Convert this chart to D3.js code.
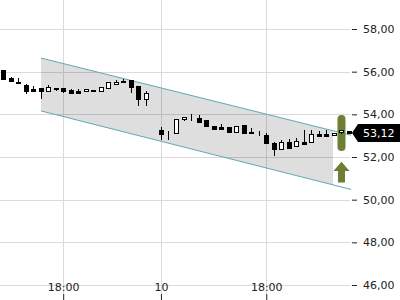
<!DOCTYPE html>
<html>
<head>
<meta charset="UTF-8">
<title>Kurs Chart</title>
<script src="https://cdn.jsdelivr.net/npm/d3@7"></script>
<style type="text/css">
	body{ margin:0; background:#fff; }
	text{ font-family: "DejaVu Sans", sans-serif; }
</style>
</head>
<body>
<script>
// candles, in order (open, high, low, close)
var opens  = [56.08,55.72,55.53,55.38,55.19,55.22,55.09,55.25,55.23,55.16,55.09,55.08,55.14,55.09,55.25,55.41,55.58,55.61,55.34,54.70,54.99,
              53.27,53.16,53.14,53.77,53.84,53.84,53.73,53.45,53.39,53.39,53.17,53.50,53.19,53.11,53.05,52.64,52.36,52.69,52.52,52.70,52.69,53.06,53.08,53.02,53.19,53.22];
var highs  = [56.10,55.74,55.69,55.40,55.34,55.25,55.36,55.25,55.23,55.19,55.19,55.21,55.16,55.30,55.50,55.61,55.66,55.62,55.34,55.11,54.99,
              53.42,53.22,53.78,53.89,54.00,53.97,53.73,53.45,53.55,53.39,53.47,53.50,53.36,53.22,53.13,52.72,52.80,52.86,52.88,53.27,53.27,53.22,53.27,53.14,53.25,53.24];
var lows   = [55.64,55.54,55.45,54.95,55.11,54.72,55.09,55.09,55.00,54.98,55.00,55.08,55.08,55.09,55.19,55.41,55.52,55.02,54.40,54.40,54.99,
              52.80,52.80,53.14,53.69,53.69,53.59,53.45,53.30,53.30,53.17,53.17,53.11,53.11,52.98,52.67,52.06,52.36,52.44,52.52,52.62,52.69,52.94,52.98,53.02,53.08,53.12];
var closes = [55.66,55.56,55.45,55.09,55.11,55.09,55.28,55.19,55.09,54.99,55.00,55.21,55.08,55.30,55.50,55.53,55.52,55.30,54.70,55.02,54.99,
              53.06,53.15,53.77,53.89,53.84,53.65,53.45,53.30,53.30,53.17,53.47,53.11,53.11,53.11,52.67,52.36,52.69,52.44,52.74,52.62,53.08,52.98,52.98,53.14,53.25,53.12];

var xTickIdx    = [8, 21, 35];
var xTickLabels = ["18:00", "10", "18:00"];
var yTicks      = [46, 48, 50, 52, 54, 56, 58];

// trend channel: [start index, end index], upper/lower values
var chanIdx   = [5.05, 46.27];
var chanUpper = [56.64, 53.02];
var chanLower = [54.16, 50.48];
var chanFillEnd = 43.87;

// signal marker (range bar + up arrow) at candle index
var signalIdx   = 45;
var signalRange = [53.97, 52.28];
var arrowVals   = [51.78, 51.34, 50.81]; // tip, head base, stem end

var lastPrice = closes[closes.length - 1];

var width = 400, height = 300;
var fmt = d3.formatLocale({decimal: ",", thousands: ".", grouping: [3], currency: ["", "€"]}).format(".2f");

var svg = d3.select("body").append("svg")
	.attr("width", width)
	.attr("height", height);

var x = d3.scaleLinear().domain([0, opens.length - 1]).range([3, 349]);
var y = d3.scaleLinear().domain([46, 58]).range([285, 29]);

// grid
var grid = svg.append("g").attr("stroke", "#dadada").attr("stroke-width", 1);
grid.selectAll(".hg").data(yTicks).enter().append("line")
	.attr("x1", 0).attr("x2", 350)
	.attr("y1", function(d){ return Math.round(y(d)) + 0.5; })
	.attr("y2", function(d){ return Math.round(y(d)) + 0.5; });
grid.selectAll(".vg").data(xTickIdx).enter().append("line")
	.attr("y1", 0).attr("y2", 294)
	.attr("x1", function(d){ return Math.round(x(d)) + 0.5; })
	.attr("x2", function(d){ return Math.round(x(d)) + 0.5; });

// channel
function lerp(a, b, t){ return a + (b - a) * t; }
var tFill = (chanFillEnd - chanIdx[0]) / (chanIdx[1] - chanIdx[0]);
var fillPts = [
	[x(chanIdx[0]), y(chanUpper[0])],
	[x(chanFillEnd), y(lerp(chanUpper[0], chanUpper[1], tFill))],
	[x(chanFillEnd), y(lerp(chanLower[0], chanLower[1], tFill))],
	[x(chanIdx[0]), y(chanLower[0])]
];
svg.append("path")
	.attr("d", d3.line()(fillPts) + "Z")
	.attr("fill", "rgba(0,0,0,0.13)");

[chanUpper, chanLower].forEach(function(v){
	svg.append("line")
		.attr("x1", x(chanIdx[0])).attr("y1", y(v[0]))
		.attr("x2", x(chanIdx[1])).attr("y2", y(v[1]))
		.attr("stroke", "#62a8b2").attr("stroke-width", 1);
});

// signal bar and arrow
var sx = x(signalIdx);
svg.append("rect")
	.attr("x", sx - 4).attr("width", 8)
	.attr("y", y(signalRange[0])).attr("height", y(signalRange[1]) - y(signalRange[0]))
	.attr("rx", 4)
	.attr("fill", "#6c7f35");
svg.append("path")
	.attr("d", d3.line()([
		[sx, y(arrowVals[0])], [sx + 8, y(arrowVals[1])], [sx + 3.5, y(arrowVals[1])],
		[sx + 3.5, y(arrowVals[2])], [sx - 3.5, y(arrowVals[2])], [sx - 3.5, y(arrowVals[1])],
		[sx - 8, y(arrowVals[1])]
	]) + "Z")
	.attr("fill", "#6c7f35");

// candles
var idx = d3.range(opens.length);
var candles = svg.append("g");
candles.selectAll(".wick").data(idx).enter().append("line")
	.attr("x1", function(i){ return Math.round(x(i)) + 0.5; })
	.attr("x2", function(i){ return Math.round(x(i)) + 0.5; })
	.attr("y1", function(i){ return Math.round(y(highs[i])); })
	.attr("y2", function(i){ return Math.round(y(lows[i])); })
	.attr("stroke", "#000");
candles.selectAll(".body").data(idx).enter().append("rect")
	.attr("x", function(i){ return Math.round(x(i)) - 2 + 0.5; })
	.attr("width", 4)
	.attr("y", function(i){ return Math.round(y(Math.max(opens[i], closes[i]))) + 0.5; })
	.attr("height", function(i){ return Math.max(0, Math.round(y(Math.min(opens[i], closes[i]))) - Math.round(y(Math.max(opens[i], closes[i])))); })
	.attr("fill", function(i){ return closes[i] >= opens[i] ? "#fff" : "#000"; })
	.attr("stroke", "#000");

// y axis (right)
var yAxis = svg.append("g")
	.attr("transform", "translate(352,0)")
	.call(d3.axisRight(y).tickValues(yTicks).tickSize(5).tickPadding(6).tickFormat(fmt));
yAxis.select(".domain").remove();
yAxis.selectAll("text").attr("font-size", 11).attr("font-family", "DejaVu Sans").attr("fill", "#222");
yAxis.selectAll("line").attr("stroke", "#222");

// x axis (labels above ticks)
var xAxis = svg.append("g")
	.attr("transform", "translate(0,300)")
	.call(d3.axisTop(x).tickValues(xTickIdx).tickSize(6).tickPadding(3)
		.tickFormat(function(d, i){ return xTickLabels[i]; }));
xAxis.select(".domain").remove();
xAxis.selectAll("text").attr("font-size", 11).attr("font-family", "DejaVu Sans").attr("fill", "#222");
xAxis.selectAll("line").attr("stroke", "#222");

// last price label
var ly = y(lastPrice);
svg.append("path")
	.attr("d", d3.line()([[352, ly], [358, ly - 9], [400, ly - 9], [400, ly + 9], [358, ly + 9]]) + "Z")
	.attr("fill", "#000");
svg.append("text")
	.attr("x", 363).attr("y", ly + 4)
	.attr("font-size", 11)
	.attr("fill", "#fff")
	.text(fmt(lastPrice));
</script>
</body>
</html>
